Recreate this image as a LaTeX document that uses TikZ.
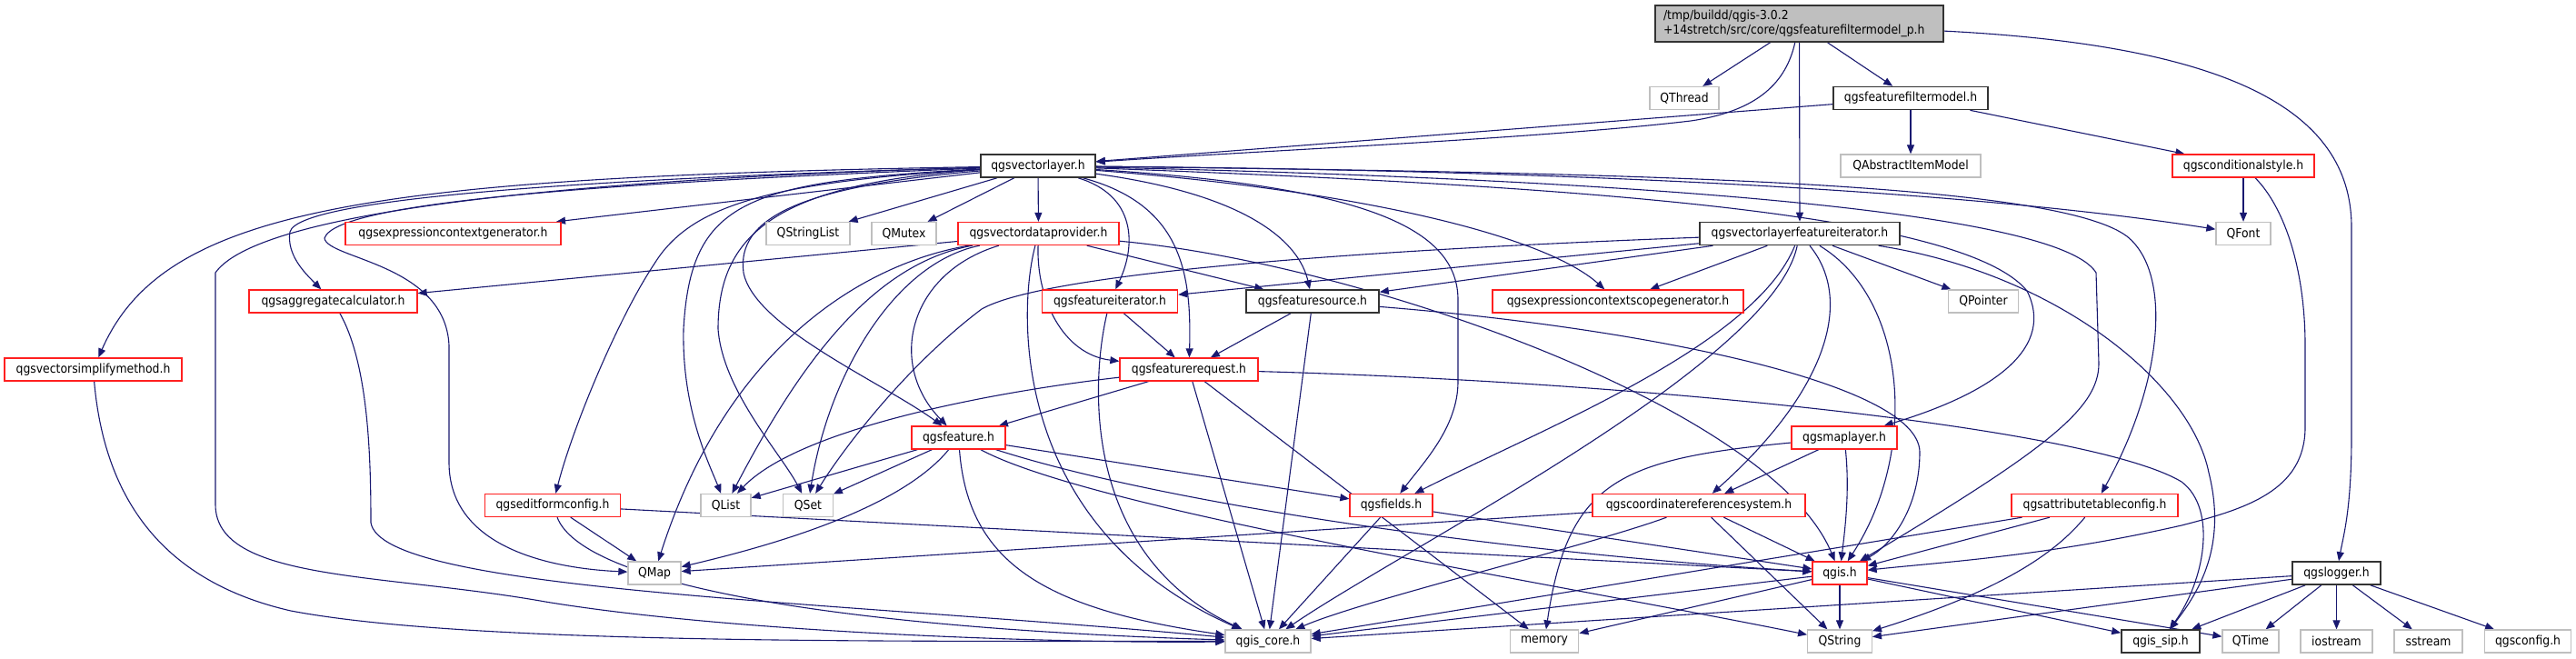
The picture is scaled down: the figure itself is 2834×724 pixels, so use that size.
\documentclass[tikz,border=0pt]{standalone}
\usepackage{fontspec}
\setmainfont{DejaVu Sans}[FakeStretch=0.9]
\usetikzlibrary{arrows.meta}
\definecolor{edgecol}{HTML}{191970}
\definecolor{boxgray}{HTML}{BFBFBF}
\definecolor{boxred}{HTML}{FF2020}
\pgfdeclarelayer{edgelayer}
\pgfsetlayers{edgelayer,main}
\begin{document}
\begin{tikzpicture}[x=1pt,y=-1pt,
  box/.style={rectangle, inner sep=0pt, minimum height=25pt, font=\fontsize{13.8}{16}\selectfont, line width=1.3pt, fill=white},
  rbox/.style={box, draw=boxred},
  gbox/.style={box, draw=boxgray},
  kbox/.style={box, draw=black!80, line width=1.6pt},
  rootbox/.style={box, draw=black!80, line width=1.6pt, fill=boxgray},
  dep/.style={draw=edgecol, line width=1.1pt, -{Triangle[length=10pt,width=8pt]}},
]
\useasboundingbox (0,0) rectangle (2834,724);

\node[rootbox, minimum width=317pt, minimum height=40pt, text width=299pt, align=left] (T) at (1979.5,26) {/tmp/buildd/qgis-3.0.2\\+14stretch/src/core/qgsfeaturefiltermodel\_p.h};
\node[gbox, minimum width=76pt] (qthread) at (1853,108) {QThread};
\node[kbox, minimum width=170pt] (ffm) at (2102,108) {qgsfeaturefiltermodel.h};
\node[kbox, minimum width=126pt] (vl) at (1142,182.5) {qgsvectorlayer.h};
\node[gbox, minimum width=154pt] (qaim) at (2102,182.5) {QAbstractItemModel};
\node[rbox, minimum width=156pt] (cs) at (2468,182.5) {qgsconditionalstyle.h};
\node[rbox, minimum width=237pt] (ecg) at (498.5,257) {qgsexpressioncontextgenerator.h};
\node[gbox, minimum width=92pt] (qsl) at (889,257) {QStringList};
\node[gbox, minimum width=71pt] (qmutex) at (994.5,257) {QMutex};
\node[rbox, minimum width=177pt] (vdp) at (1142.5,257) {qgsvectordataprovider.h};
\node[kbox, minimum width=220pt] (vlfi) at (1980,257) {qgsvectorlayerfeatureiterator.h};
\node[gbox, minimum width=60pt] (qfont) at (2468,257) {QFont};
\node[rbox, minimum width=185pt] (ac) at (366.5,331.5) {qgsaggregatecalculator.h};
\node[rbox, minimum width=149pt] (fi) at (1221,331.5) {qgsfeatureiterator.h};
\node[kbox, minimum width=146pt] (fs) at (1444,331.5) {qgsfeaturesource.h};
\node[rbox, minimum width=276pt] (ecsg) at (1780,331.5) {qgsexpressioncontextscopegenerator.h};
\node[gbox, minimum width=77pt] (qpointer) at (2182,331.5) {QPointer};
\node[rbox, minimum width=195pt] (vsm) at (102.5,406.5) {qgsvectorsimplifymethod.h};
\node[rbox, minimum width=152pt] (fr) at (1308,406.5) {qgsfeaturerequest.h};
\node[rbox, minimum width=103pt] (feat) at (1054.5,481.5) {qgsfeature.h};
\node[rbox, minimum width=116pt] (ml) at (2029,481.5) {qgsmaplayer.h};
\node[rbox, minimum width=149pt] (efc) at (608,556) {qgseditformconfig.h};
\node[gbox, minimum width=55pt] (qlist) at (798.5,556) {QList};
\node[gbox, minimum width=54.5pt] (qset) at (889,556) {QSet};
\node[rbox, minimum width=91pt] (fields) at (1530.5,556) {qgsfields.h};
\node[rbox, minimum width=234pt] (crs) at (1869,556) {qgscoordinatereferencesystem.h};
\node[rbox, minimum width=183pt] (atc) at (2304.5,556) {qgsattributetableconfig.h};
\node[gbox, minimum width=58pt] (qmap) at (720,630.5) {QMap};
\node[rbox, minimum width=60pt] (qgis) at (2024,630.5) {qgis.h};
\node[kbox, minimum width=97pt] (logger) at (2570.5,630.5) {qgslogger.h};
\node[gbox, minimum width=94pt] (core) at (1395,705.5) {qgis\_core.h};
\node[gbox, minimum width=75.5pt] (memory) at (1699,705.5) {memory};
\node[gbox, minimum width=70.6pt] (qstring) at (2024,705.5) {QString};
\node[kbox, minimum width=86pt] (sip) at (2377,705.5) {qgis\_sip.h};
\node[gbox, minimum width=62pt] (qtime) at (2476,705.5) {QTime};
\node[gbox, minimum width=79pt] (iostream) at (2570.5,705.5) {iostream};
\node[gbox, minimum width=75pt] (sstream) at (2671.5,705.5) {sstream};
\node[gbox, minimum width=95.5pt] (qgsconfig) at (2781,705.5) {qgsconfig.h};

\begin{pgfonlayer}{edgelayer}
\fill[white] (0,0) rectangle (2834,724);
% root
\draw[dep] (T) -- (qthread);
\draw[dep] (T) .. controls (1965,90) and (1935,122) .. (1860,133) .. controls (1700,152) and (1400,165) .. (vl);
\draw[dep] (T) -- (vlfi);
\draw[dep] (T) -- (ffm);
\draw[dep] (T) .. controls (2450,50) and (2587,120) .. (2587,250) -- (2587,480) .. controls (2587,560) and (2578,590) .. (logger);
% feature filter model
\draw[dep] (ffm) -- (vl);
\draw[dep] (ffm) -- (qaim);
\draw[dep] (ffm) -- (cs);
% conditional style
\draw[dep] (cs) -- (qfont);
\draw[dep] (cs) .. controls (2515,230) and (2536,300) .. (2536,380) -- (2536,470) .. controls (2536,540) and (2470,560) .. (2400,578) .. controls (2250,612) and (2140,618) .. (qgis);
% vector layer
\draw[dep] (vl) -- (qsl);
\draw[dep] (vl) -- (qmutex);
\draw[dep] (vl) -- (vdp);
\draw[dep] (vl) -- (ecg);
\draw[dep] (vl) .. controls (700,195) and (330,215) .. (319,255) .. controls (315,280) and (335,300) .. (ac);
\draw[dep] (vl) .. controls (400,195) and (180,230) .. (vsm);
\draw[dep] (vl) .. controls (700,195) and (290,225) .. (237,300) -- (237,555) .. controls (237,640) and (420,630) .. (600,662) .. controls (800,695) and (1150,708) .. (core);
\draw[dep] (vl) .. controls (700,200) and (370,220) .. (357,262) .. controls (360,285) and (490,290) .. (494,380) -- (494,510) .. controls (495,600) and (600,625) .. (qmap);
\draw[dep] (vl) .. controls (850,200) and (760,225) .. (720,290) .. controls (680,350) and (630,470) .. (efc);
\draw[dep] (vl) .. controls (820,200) and (760,220) .. (752,362) .. controls (750,450) and (780,510) .. (qlist);
\draw[dep] (vl) .. controls (850,202) and (790,260) .. (790,362) .. controls (795,430) and (860,500) .. (qset);
\draw[dep] (vl) .. controls (880,205) and (810,240) .. (818,300) .. controls (830,360) and (970,420) .. (feat);
\draw[dep] (vl) .. controls (1250,215) and (1250,270) .. (fi);
\draw[dep] (vl) .. controls (1300,225) and (1311,300) .. (fr);
\draw[dep] (vl) .. controls (1380,215) and (1430,270) .. (fs);
\draw[dep] (vl) .. controls (1500,205) and (1604,250) .. (1604,330) -- (1604,420) .. controls (1604,470) and (1565,510) .. (fields);
\draw[dep] (vl) .. controls (1500,210) and (1700,260) .. (ecsg);
\draw[dep] (vl) .. controls (1750,205) and (2160,235) .. (2230,320) .. controls (2260,380) and (2200,430) .. (ml);
\draw[dep] (vl) .. controls (1700,195) and (2260,225) .. (2306,300) -- (2309,400) .. controls (2309,450) and (2250,495) .. (qgis);
\draw[dep] (vl) .. controls (1800,190) and (2260,200) .. (2340,260) .. controls (2390,300) and (2380,420) .. (atc);
\draw[dep] (vl) .. controls (1800,188) and (2200,215) .. (qfont);
% vector data provider
\draw[dep] (vdp) -- (ac);
\draw[dep] (vdp) .. controls (950,290) and (800,380) .. (qmap);
\draw[dep] (vdp) .. controls (960,290) and (880,400) .. (qlist);
\draw[dep] (vdp) .. controls (980,290) and (910,420) .. (qset);
\draw[dep] (vdp) .. controls (1000,300) and (975,400) .. (feat);
\draw[dep] (vdp) .. controls (1120,340) and (1110,580) .. (core);
\draw[dep] (vdp) .. controls (1140,330) and (1170,390) .. (fr);
\draw[dep] (vdp) -- (fs);
\draw[dep] (vdp) .. controls (1500,290) and (1950,450) .. (qgis);
% vector layer feature iterator
\draw[dep] (vlfi) .. controls (1500,275) and (1150,300) .. (1080,340) .. controls (1000,400) and (930,490) .. (qset);
\draw[dep] (vlfi) -- (fi);
\draw[dep] (vlfi) -- (fs);
\draw[dep] (vlfi) -- (ecsg);
\draw[dep] (vlfi) -- (qpointer);
\draw[dep] (vlfi) .. controls (2260,300) and (2410,420) .. (2430,520) .. controls (2450,600) and (2420,650) .. (sip);
\draw[dep] (vlfi) .. controls (1930,380) and (1700,470) .. (fields);
\draw[dep] (vlfi) .. controls (1950,400) and (1550,600) .. (core);
\draw[dep] (vlfi) .. controls (2040,330) and (2010,430) .. (crs);
\draw[dep] (vlfi) .. controls (2100,330) and (2110,500) .. (qgis);
% map layer
\draw[dep] (ml) -- (crs);
\draw[dep] (ml) .. controls (2035,540) and (2030,580) .. (qgis);
\draw[dep] (ml) .. controls (1780,505) and (1725,530) .. (memory);
% crs
\draw[dep] (crs) -- (qmap);
\draw[dep] (crs) -- (qgis);
\draw[dep] (crs) -- (qstring);
\draw[dep] (crs) .. controls (1750,600) and (1500,660) .. (core);
% qgis
\draw[dep] (qgis) -- (qstring);
\draw[dep] (qgis) -- (core);
\draw[dep] (qgis) -- (memory);
\draw[dep] (qgis) -- (sip);
\draw[dep] (qgis) -- (qtime);
% fields
\draw[dep] (fields) -- (core);
\draw[dep] (fields) -- (qgis);
% feature
\draw[dep] (feat) -- (qlist);
\draw[dep] (feat) -- (qset);
\draw[dep] (feat) .. controls (990,560) and (850,600) .. (qmap);
\draw[dep] (feat) .. controls (1065,620) and (1150,670) .. (core);
\draw[dep] (feat) -- (fields);
\draw[dep] (feat) .. controls (1300,560) and (1700,612) .. (qgis);
\draw[dep] (feat) .. controls (1200,560) and (1700,640) .. (qstring);
% feature request
\draw[dep] (fr) -- (feat);
\draw[dep] (fr) .. controls (1100,430) and (880,470) .. (qlist);
\draw[dep] (fr) -- (core);
\draw[dep] (fr) -- (memory);
\draw[dep] (fr) .. controls (1800,420) and (2300,470) .. (2400,530) .. controls (2440,560) and (2425,640) .. (sip);
% feature iterator
\draw[dep] (fi) -- (fr);
\draw[dep] (fi) .. controls (1200,420) and (1190,610) .. (core);
% feature source
\draw[dep] (fs) -- (fr);
\draw[dep] (fs) -- (core);
\draw[dep] (fs) .. controls (1800,360) and (2110,420) .. (2112,497) .. controls (2112,560) and (2080,600) .. (qgis);
% edit form config
\draw[dep] (efc) -- (qmap);
\draw[dep] (efc) .. controls (640,640) and (900,690) .. (core);
\draw[dep] (efc) -- (qgis);
% aggregate calculator
\draw[dep] (ac) .. controls (405,400) and (408,500) .. (408,575) .. controls (420,650) and (900,660) .. (core);
% simplify method
\draw[dep] (vsm) .. controls (115,550) and (180,640) .. (320,672) .. controls (520,710) and (1000,705) .. (core);
% attribute table config
\draw[dep] (atc) -- (qgis);
\draw[dep] (atc) -- (core);
\draw[dep] (atc) .. controls (2260,610) and (2200,650) .. (qstring);
% logger
\draw[dep] (logger) -- (core);
\draw[dep] (logger) -- (qstring);
\draw[dep] (logger) -- (sip);
\draw[dep] (logger) -- (qtime);
\draw[dep] (logger) -- (iostream);
\draw[dep] (logger) -- (sstream);
\draw[dep] (logger) -- (qgsconfig);
\end{pgfonlayer}
\end{tikzpicture}
\end{document}
